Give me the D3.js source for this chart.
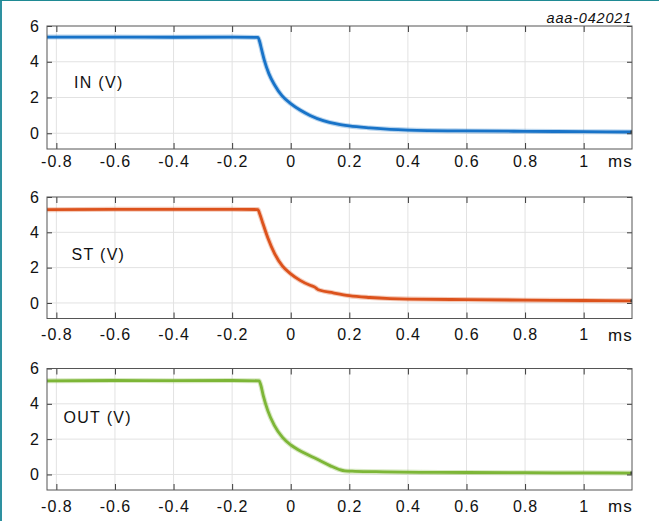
<!DOCTYPE html>
<html>
<head>
<meta charset="utf-8">
<script src="https://cdn.jsdelivr.net/npm/d3@7"></script>
<style>
  html, body { margin: 0; padding: 0; background: #fff; }
  svg { display: block; }
  text { font-family: "Liberation Sans", Arial, sans-serif; fill: #111; }
</style>
</head>
<body>
<script>
// ---------- data ----------
const xTicks = [-0.8, -0.6, -0.4, -0.2, 0, 0.2, 0.4, 0.6, 0.8, 1];
const xTickLabels = ["-0.8", "-0.6", "-0.4", "-0.2", "0", "0.2", "0.4", "0.6", "0.8", "1"];
const yTicks = [0, 2, 4, 6];
const yTickLabels = ["0", "2", "4", "6"];
const xUnit = "ms";
const figureId = "aaa-042021";
const seriesNames = ["IN (V)", "ST (V)", "OUT (V)"];

const timeIN = [-0.832, -0.6, -0.4, -0.2, -0.112, -0.106, -0.1, -0.09, -0.075, -0.055, -0.03, 0, 0.032, 0.066, 0.111, 0.157, 0.2, 0.27, 0.339, 0.4, 0.6, 0.8, 1.0, 1.165];
const valuesIN = [5.38, 5.38, 5.37, 5.38, 5.36, 5.12, 4.72, 4.08, 3.35, 2.7, 2.1, 1.66, 1.3, 1.0, 0.71, 0.52, 0.41, 0.30, 0.22, 0.18, 0.13, 0.11, 0.09, 0.07];

const timeST = [-0.832, -0.6, -0.4, -0.2, -0.112, -0.106, -0.095, -0.078, -0.055, -0.028, 0, 0.032, 0.066, 0.082, 0.092, 0.1, 0.145, 0.2, 0.27, 0.339, 0.4, 0.6, 0.8, 1.0, 1.165];
const valuesST = [5.28, 5.3, 5.3, 5.3, 5.29, 5.05, 4.5, 3.68, 2.8, 2.08, 1.65, 1.28, 1.0, 0.9, 0.77, 0.72, 0.57, 0.41, 0.31, 0.25, 0.22, 0.19, 0.16, 0.14, 0.12];

const timeOUT = [-0.832, -0.6, -0.4, -0.2, -0.108, -0.102, -0.094, -0.078, -0.056, -0.028, 0, 0.043, 0.089, 0.134, 0.165, 0.185, 0.22, 0.316, 0.44, 0.6, 0.8, 1.0, 1.165];
const valuesOUT = [5.3, 5.32, 5.31, 5.32, 5.3, 5.05, 4.48, 3.6, 2.78, 2.1, 1.67, 1.24, 0.87, 0.5, 0.28, 0.2, 0.18, 0.15, 0.12, 0.11, 0.1, 0.09, 0.08];

const seriesTimes = [timeIN, timeST, timeOUT];
const seriesValues = [valuesIN, valuesST, valuesOUT];
const seriesColors = ["#1873c8", "#dc521c", "#7db637"];

// ---------- layout ----------
const W = 659, H = 521;
const plotLeft = 47, plotRight = 632;
const panels = [
  { top: 26,    bottom: 149,   labelX: 74,   labelY: 61.5, tickPad: 6.5 },
  { top: 197,   bottom: 318.5, labelX: 71.5, labelY: 62.5, tickPad: 10.5 },
  { top: 368.5, bottom: 490,   labelX: 63.5, labelY: 54,   tickPad: 10.5 }
];

const svg = d3.select("body").append("svg").attr("width", W).attr("height", H);
svg.append("rect").attr("width", W).attr("height", H).attr("fill", "#fff");

// outer teal border (left and top)
svg.append("line").attr("x1", 1).attr("x2", 1).attr("y1", 0).attr("y2", H)
  .attr("stroke", "#2e91a0").attr("stroke-width", 2);
svg.append("line").attr("x1", 0).attr("x2", W).attr("y1", 0.5).attr("y2", 0.5)
  .attr("stroke", "#1f8a94").attr("stroke-width", 1);

const x = d3.scaleLinear().domain([-0.832, 1.165]).range([plotLeft, plotRight]);

svg.append("text").attr("x", plotRight).attr("y", 22.5)
  .attr("text-anchor", "end").attr("font-size", 14.5).attr("font-style", "italic")
  .attr("letter-spacing", "0.8px")
  .text(figureId);

panels.forEach((p, i) => {
  const y = d3.scaleLinear().domain([-0.88, 6]).range([p.bottom, p.top]);
  const g = svg.append("g");

  // grid
  g.append("g").selectAll("line").data(xTicks).join("line")
    .attr("x1", d => x(d)).attr("x2", d => x(d))
    .attr("y1", p.top).attr("y2", p.bottom)
    .attr("stroke", "#e2e2e2").attr("stroke-width", 1);
  g.append("g").selectAll("line").data(yTicks.filter(d => d < 6)).join("line")
    .attr("x1", plotLeft).attr("x2", plotRight)
    .attr("y1", d => y(d)).attr("y2", d => y(d))
    .attr("stroke", "#e2e2e2").attr("stroke-width", 1);

  // series
  const pts = seriesTimes[i].map((t, k) => [t, seriesValues[i][k]]);
  const line = d3.line().x(d => x(d[0])).y(d => y(d[1])).curve(d3.curveMonotoneX);
  g.append("path").datum(pts).attr("d", line)
    .attr("fill", "none").attr("stroke", seriesColors[i])
    .attr("stroke-opacity", 0.3).attr("stroke-width", 5)
    .attr("stroke-linejoin", "round");
  g.append("path").datum(pts).attr("d", line)
    .attr("fill", "none").attr("stroke", seriesColors[i])
    .attr("stroke-width", 2.8).attr("stroke-linejoin", "round");
  // end marker
  const last = pts[pts.length - 1];
  g.append("line").attr("x1", x(last[0]) - 1.5).attr("x2", x(last[0]))
    .attr("y1", y(last[1])).attr("y2", y(last[1]))
    .attr("stroke", "#333").attr("stroke-width", 3);

  // axes (ticks inside)
  const fmtX = d => xTickLabels[xTicks.indexOf(d)];
  const fmtY = d => yTickLabels[yTicks.indexOf(d)];
  const axB = g.append("g").attr("transform", `translate(0,${p.bottom})`)
    .call(d3.axisBottom(x).tickValues(xTicks).tickFormat(fmtX).tickSize(-6).tickPadding(p.tickPad));
  const axT = g.append("g").attr("transform", `translate(0,${p.top})`)
    .call(d3.axisTop(x).tickValues(xTicks).tickFormat("").tickSize(-6));
  const axL = g.append("g").attr("transform", `translate(${plotLeft},0)`)
    .call(d3.axisLeft(y).tickValues(yTicks).tickFormat(fmtY).tickSize(-5).tickPadding(7));
  const axR = g.append("g").attr("transform", `translate(${plotRight},0)`)
    .call(d3.axisRight(y).tickValues(yTicks).tickFormat("").tickSize(-5));
  [axB, axT, axL, axR].forEach(a => {
    a.select(".domain").remove();
    a.selectAll(".tick line").attr("stroke", "#3a3a3a");
    a.selectAll("text").attr("font-size", 16).attr("letter-spacing", "1px")
      .attr("fill", "#111").attr("font-family", "'Liberation Sans', Arial, sans-serif");
  });

  // frame
  g.append("rect").attr("x", plotLeft).attr("y", p.top)
    .attr("width", plotRight - plotLeft).attr("height", p.bottom - p.top)
    .attr("fill", "none").attr("stroke", "#555").attr("stroke-width", 1);

  // unit label
  g.append("text").attr("x", plotRight + 1).attr("y", p.bottom + p.tickPad + 11.5)
    .attr("text-anchor", "end").attr("font-size", 17).attr("letter-spacing", "1.2px")
    .text(xUnit);

  // series label
  g.append("text").attr("x", p.labelX).attr("y", p.top + p.labelY)
    .attr("font-size", 16).attr("letter-spacing", "1.3px")
    .text(seriesNames[i]);
});
</script>
</body>
</html>
